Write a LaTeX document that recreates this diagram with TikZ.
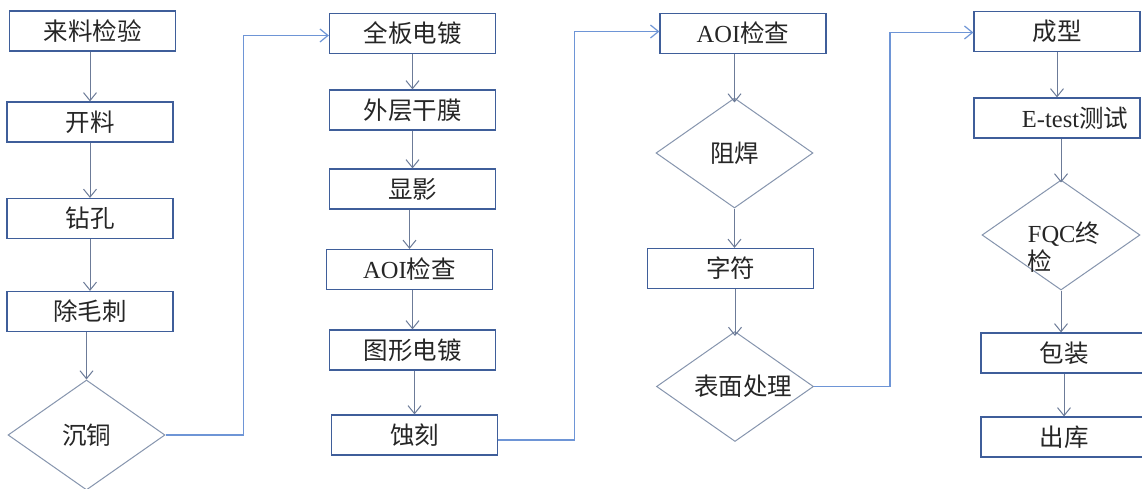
\documentclass[tikz,border=0pt]{standalone}
\usepackage{fontspec}
\setmainfont{Liberation Serif}
\newfontfamily\cjk{Noto Sans CJK SC}
\usetikzlibrary{shapes.geometric,arrows.meta}
\definecolor{boxc}{HTML}{3F5E9A}
\definecolor{diac}{HTML}{8695AE}
\definecolor{arrc}{HTML}{6C7B98}
\definecolor{linkc}{HTML}{6E95D6}
\newcommand\zh[1]{{\cjk #1}}
\begin{document}
\begin{tikzpicture}[x=1pt,y=-1pt,
  lbl/.style={font=\fontsize{24.5}{28}\selectfont, text=black!85},
  box/.style={lbl, draw=boxc, line width=1.2pt, minimum width=166pt, minimum height=40pt, inner sep=0pt},
  dia/.style={lbl, diamond, draw=diac, line width=1pt, aspect=1.43, minimum width=157pt, minimum height=110pt, inner sep=0pt},
  arr/.style={draw=arrc, line width=1pt, -{Straight Barb[length=8pt,width=13pt]}},
  link/.style={draw=linkc, line width=1.2pt, -{Straight Barb[length=8pt,width=13pt]}}]
\useasboundingbox (0,0) rectangle (1142,489);
\clip (0,0) rectangle (1142,489);
\fill[white] (0,0) rectangle (1142,489);
% column 1
\node[box] (ll) at (92.5,31) {\zh{来料检验}};
\node[box] (kl) at (90,122) {\zh{开料}};
\node[box] (zk) at (90,218.5) {\zh{钻孔}};
\node[box] (cmc) at (90,311.5) {\zh{除毛刺}};
\node[dia] (ct) at (86.5,435) {\zh{沉铜}};
% column 2
\node[box] (qb) at (412.5,33.5) {\zh{全板电镀}};
\node[box] (wc) at (412.5,110) {\zh{外层干膜}};
\node[box] (xy) at (412.5,189) {\zh{显影}};
\node[box] (aoia) at (409.5,269.5) {AOI\zh{检查}};
\node[box] (tx) at (412.5,350) {\zh{图形电镀}};
\node[box] (sk) at (414.5,435) {\zh{蚀刻}};
% column 3
\node[box] (aoib) at (743,33.5) {AOI\zh{检查}};
\node[dia] (zh) at (734.5,153) {\zh{阻焊}};
\node[box] (zf) at (730.5,268.5) {\zh{字符}};
\node[dia] (bm) at (735,386.5) {\hspace*{16pt}\zh{表面处理}};
% column 4
\node[box] (cx) at (1057,31.5) {\zh{成型}};
\node[box] (et) at (1057,118) {\hspace*{36pt}E-test\zh{测试}};
\node[dia, minimum width=158pt] (fqc) at (1061,235) {};
\node[lbl, align=left, inner sep=0pt] (fqct) at (1064,247) {FQC\zh{终}\\\zh{检}};
\node[box] (bz) at (1064,353) {\zh{包装}};
\node[box] (ck) at (1064,437) {\zh{出库}};
% vertical connectors
\draw[arr] (kl.north |- ll.south) -- (kl.north);
\draw[arr] (zk.north |- kl.south) -- (zk.north);
\draw[arr] (cmc.north |- zk.south) -- (cmc.north);
\draw[arr] (ct.north |- cmc.south) -- (ct.north);
\draw[arr] (wc.south |- qb.south) -- (wc.north);
\draw[arr] (xy.north |- wc.south) -- (xy.north);
\draw[arr] (aoia.north |- xy.south) -- (aoia.north);
\draw[arr] (tx.north |- aoia.south) -- (tx.north);
\draw[arr] (sk.north |- tx.south) -- (sk.north);
\draw[arr] (zh.north |- aoib.south) -- ([yshift=-5pt]zh.north);
\draw[arr] (zh.south) -- (zh.south |- zf.north);
\draw[arr] (bm.north |- zf.south) -- ([yshift=-5pt]bm.north);
\draw[arr] (cx.south) -- (cx.south |- et.north);
\draw[arr] (fqc.north |- et.south) -- ([yshift=-3pt]fqc.north);
\draw[arr] (fqc.south) -- (fqc.south |- bz.north);
\draw[arr] (ck.north |- bz.south) -- (ck.north);
% long connectors
\draw[link] (ct.east) -- ++(78,0) |- ([yshift=-2pt]qb.west);
\draw[link] ([yshift=-5pt]sk.east) -- ++(76,0) |- ([yshift=2pt]aoib.west);
\draw[link] (bm.east) -- ++(76,0) |- ([yshift=-1pt]cx.west);
\end{tikzpicture}
\end{document}
